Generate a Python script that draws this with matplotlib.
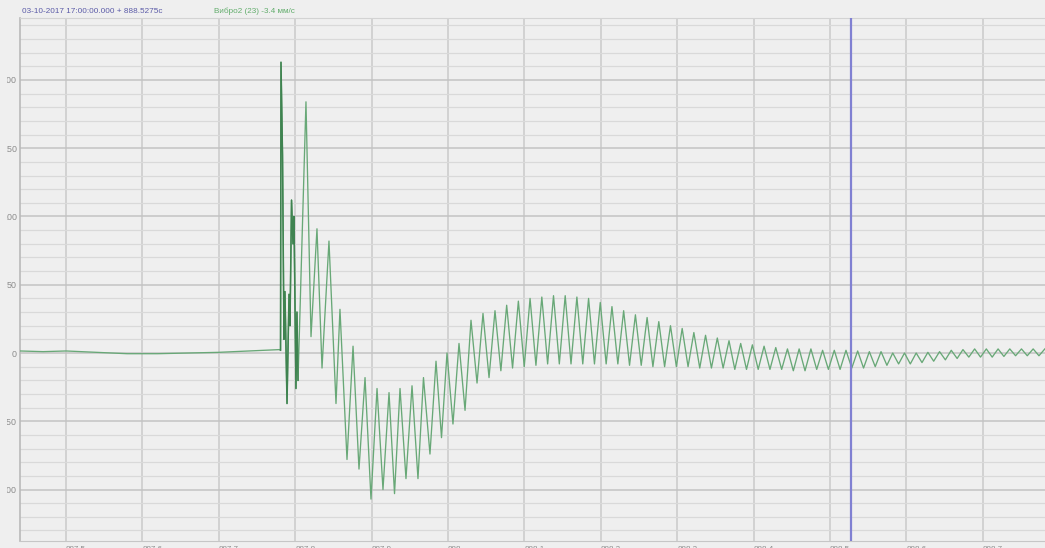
import matplotlib
matplotlib.use("Agg")
import matplotlib.pyplot as plt
from matplotlib.ticker import FixedLocator, FixedFormatter, MultipleLocator
from matplotlib.transforms import Bbox, TransformedBbox

plt.rcParams['font.family'] = ['Liberation Sans', 'DejaVu Sans']

# ---- header texts ----
header_time = "03-10-2017 17:00:00.000 + 888.5275c"
header_channel = "Вибро2 (23) -3.4 мм/с"
cursor_t = 888.5275

# ---- axis ticks ----
x_ticks = [887.5, 887.6, 887.7, 887.8, 887.9, 888.0, 888.1, 888.2,
           888.3, 888.4, 888.5, 888.6, 888.7]
x_tick_labels = ["887.5", "887.6", "887.7", "887.8", "887.9", "888", "888.1",
                 "888.2", "888.3", "888.4", "888.5", "888.6", "888.7"]
y_ticks = [-100, -50, 0, 50, 100, 150, 200]
y_tick_labels = ["-100", "-50", "0", "50", "100", "150", "200"]

# ---- vibration signal, mm/s vs time, s ----
# quiet part before the impact
quiet_t = [887.4398, 887.470, 887.500, 887.540, 887.580, 887.620, 887.660,
           887.700, 887.740, 887.7795]
quiet_v = [1.5, 1.0, 1.5, 0.5, -0.5, -0.5, 0.0, 0.5, 1.5, 2.5]

# impact burst and the large negative swing
burst_t = [887.7808, 887.7814, 887.7834, 887.7853, 887.7866, 887.7893,
           887.7919, 887.7932, 887.7952, 887.7971, 887.7984, 887.8010,
           887.8023, 887.8037, 887.8141, 887.8207, 887.8285, 887.8351,
           887.8442, 887.8534, 887.8586, 887.8678, 887.8757, 887.8835,
           887.8914, 887.8992, 887.9071, 887.9149, 887.9228, 887.9300,
           887.9372, 887.9450, 887.9529, 887.9607, 887.9679, 887.9764,
           887.9843, 887.9915, 887.9987, 888.0065, 888.0144, 888.0223,
           888.0301, 888.0380, 888.0458, 888.0537, 888.0615]
burst_v = [2, 213, 145, 10, 45, -37,
           43, 20, 112, 80, 100, -26,
           30, -20, 184, 12, 91, -11,
           82, -37, 32, -78, 5, -85,
           -18, -107, -26, -100, -29, -103,
           -26, -92, -24, -92, -18, -74,
           -6, -62, 0, -52, 7, -42,
           24, -22, 29, -18, 31]

# ring-down oscillation (alternating troughs and peaks)
ring_t = [888.0692,
          888.0768, 888.0845, 888.0921, 888.0998, 888.1074, 888.1151,
          888.1228, 888.1304, 888.1381, 888.1457, 888.1534, 888.1610,
          888.1687, 888.1764, 888.1840, 888.1917, 888.1993, 888.2070,
          888.2146, 888.2223, 888.2299, 888.2376, 888.2453, 888.2529,
          888.2606, 888.2682, 888.2759, 888.2835, 888.2912, 888.2989,
          888.3065, 888.3142, 888.3218, 888.3295, 888.3371, 888.3448,
          888.3525, 888.3601, 888.3678, 888.3754, 888.3831, 888.3907,
          888.3984, 888.4060, 888.4137, 888.4214, 888.4290, 888.4367,
          888.4443, 888.4520, 888.4596, 888.4673, 888.4750, 888.4826,
          888.4903, 888.4979, 888.5056, 888.5132, 888.5209, 888.5285,
          888.5362, 888.5439, 888.5515, 888.5592, 888.5668, 888.5745,
          888.5821, 888.5898, 888.5975, 888.6051, 888.6128, 888.6204,
          888.6281, 888.6357, 888.6434, 888.6510, 888.6587, 888.6664,
          888.6740, 888.6817, 888.6893, 888.6970, 888.7046, 888.7123,
          888.7200, 888.7276, 888.7353, 888.7429, 888.7506, 888.7582,
          888.7659, 888.7735, 888.7812]
ring_v = [-13,
          35, -11, 38, -10, 40, -9,
          41, -8, 42, -8, 42, -8,
          41, -8, 40, -8, 37, -8,
          34, -8, 31, -9, 28, -9,
          26, -10, 23, -10, 20, -10,
          18, -10, 15, -11, 13, -11,
          11, -11, 9, -12, 7, -12,
          6, -12, 5, -12, 4, -12,
          3, -13, 3, -13, 3, -12,
          2, -12, 2, -12, 2, -11,
          1.5, -11, 1, -10, 1, -9,
          0, -8, 0, -8, 0, -7,
          0.5, -6, 1, -5, 2, -4,
          2.5, -3, 3, -3, 3, -3,
          3, -2.5, 3, -2, 3, -2,
          3, -2, 3]

W, H = 1045, 548
BG = "#efefef"
fig = plt.figure(figsize=(W / 100, H / 100), dpi=100, facecolor=BG)
ax = fig.add_axes([20 / W, 7 / H, (W - 20) / W, 523 / H], facecolor=BG)

t = quiet_t + burst_t + ring_t
v = quiet_v + burst_v + ring_v
ax.plot(t, v, color="#68a877", lw=0.95, zorder=3,
        solid_joinstyle="round")
# the first impact spikes are drawn denser by the recorder
ax.plot(burst_t[:14], burst_v[:14], color="#3f8350", lw=1.1, zorder=3.5,
        solid_joinstyle="round")

ax.axvline(cursor_t, color="#8080d2", lw=1.6, zorder=4)

ax.set_xlim(887.4398, 888.7814)
ax.set_ylim(-137.7, 245.4)

ax.xaxis.set_major_locator(FixedLocator(x_ticks))
ax.xaxis.set_major_formatter(FixedFormatter(x_tick_labels))
ax.yaxis.set_major_locator(FixedLocator(y_ticks))
ax.yaxis.set_major_formatter(FixedFormatter(y_tick_labels))
ax.yaxis.set_minor_locator(MultipleLocator(10))

ax.set_axisbelow(True)
ax.grid(which="major", axis="y", color="#c3c3c3", lw=1.1)
ax.grid(which="minor", axis="y", color="#d9d9d9", lw=0.9)
ax.grid(which="major", axis="x", color="#d2d2d2", lw=1.4)

ax.tick_params(which="both", length=0)
ax.tick_params(axis="x", pad=3.5, labelsize=5.7, labelcolor="#8c8c8c")
ax.tick_params(axis="y", pad=2.2, labelsize=6.4, labelcolor="#8c8c8c")

ax.spines["right"].set_visible(False)
ax.spines["left"].set_color("#b9b9b9")
ax.spines["left"].set_linewidth(1.2)
ax.spines["bottom"].set_color("#c6c6c6")
ax.spines["top"].set_color("#d3d3d3")

for lab in ax.get_xticklabels():
    lab.set_horizontalalignment("left")

# the left window border hides the first characters of the value labels
ylab_clip = TransformedBbox(Bbox.from_extents(7 / W, 0, 1, 1), fig.transFigure)
for lab in ax.get_yticklabels():
    lab.set_clip_box(ylab_clip)
    lab.set_clip_on(True)

head_clip = TransformedBbox(Bbox.from_extents(0, 0, 1, (H - 7) / H), fig.transFigure)
t1 = fig.text(22 / W, 1 - 13 / H, header_time, color="#5b5ba8",
              fontsize=5.9, va="baseline", ha="left")
t2 = fig.text(214 / W, 1 - 13 / H, header_channel, color="#62ad6c",
              fontsize=5.9, va="baseline", ha="left")
for tx in (t1, t2):
    tx.set_clip_box(head_clip)
    tx.set_clip_on(True)

fig.savefig("out.png", dpi=100, facecolor=BG)
